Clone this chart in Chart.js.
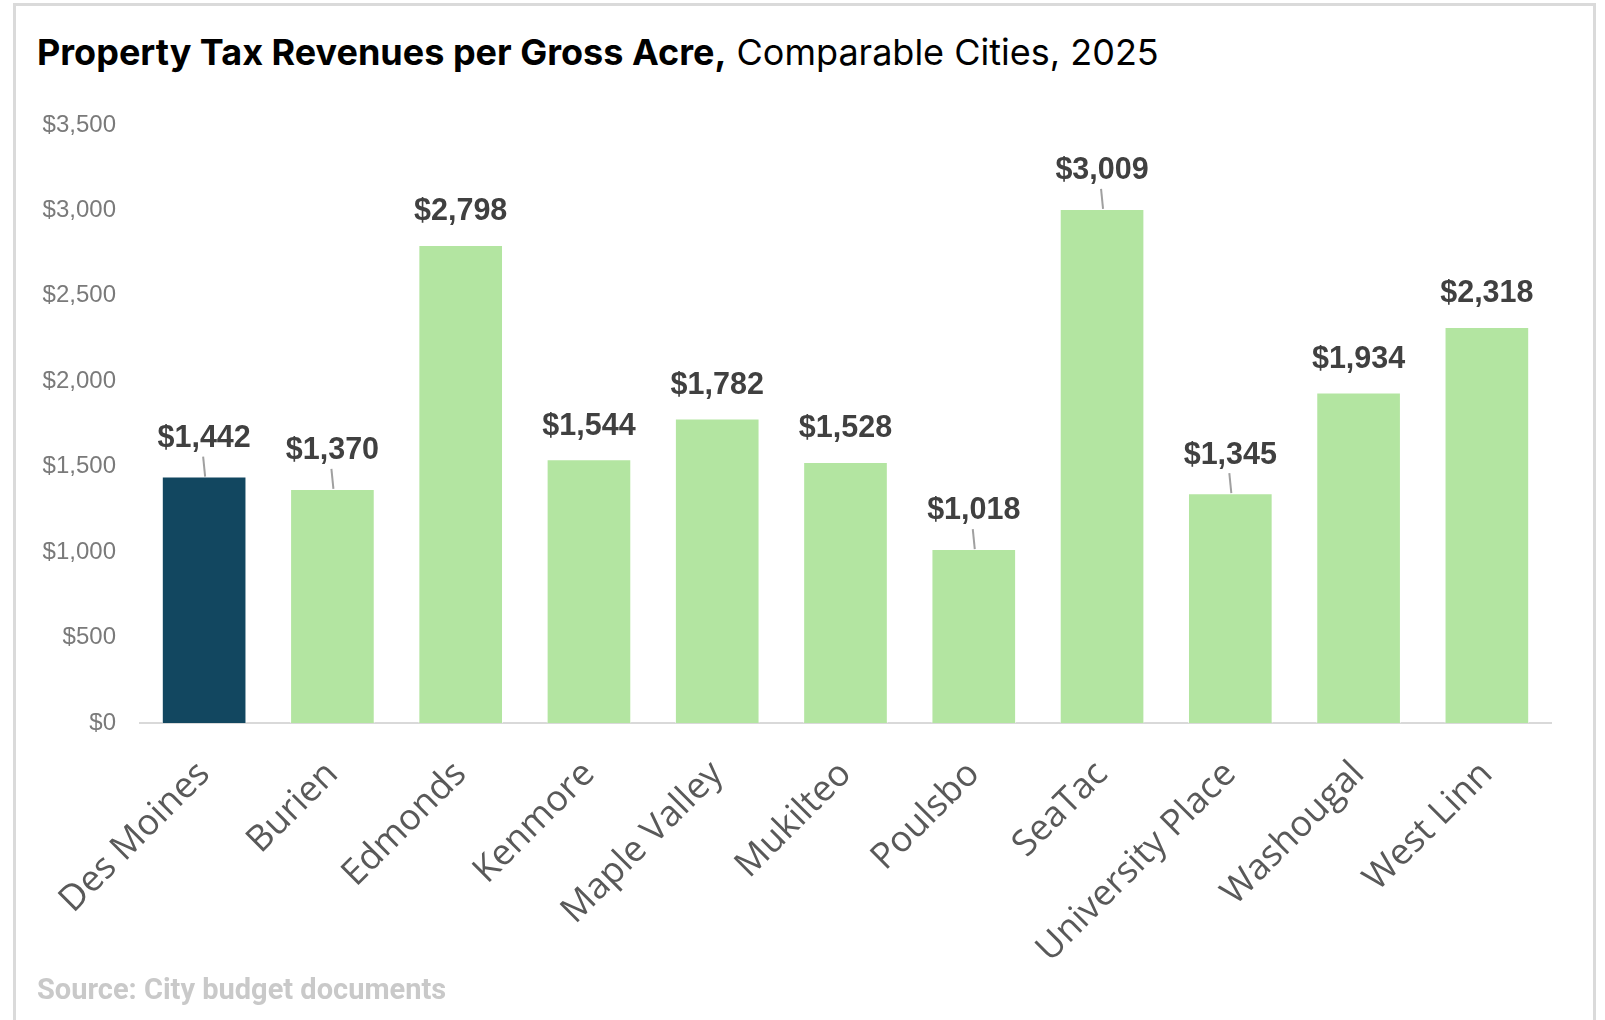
<!DOCTYPE html>
<html>
<head>
<meta charset="utf-8">
<script src="https://cdn.jsdelivr.net/npm/chart.js@4"></script>
<style>
  html, body { margin: 0; padding: 0; background: #ffffff; }
  #wrap { position: relative; width: 1605px; height: 1020px; overflow: hidden; }
  #frame { position: absolute; left: 13px; top: 3px; width: 1583px; height: 1040px; border: 3px solid #dadada; box-sizing: border-box; }
  #title { position: absolute; left: 37px; top: 30px; font-family: Inter, Roboto, sans-serif; font-size: 36px; color: #000; white-space: nowrap; letter-spacing: 0px; }
  #title b { font-weight: 700; }
  #title span { font-weight: 400; }
  #source { position: absolute; left: 37px; top: 972px; font-family: "Liberation Sans Narrow", Roboto, sans-serif; font-weight: 700; font-size: 29px; color: #c9c9c9; white-space: nowrap; }
  canvas { position: absolute; left: 0; top: 0; }
</style>
</head>
<body>
<div id="wrap">
  <div id="frame"></div>
  <div id="title"><b>Property Tax Revenues per Gross Acre,</b> <span>Comparable Cities, 2025</span></div>
  <canvas id="c" width="1605" height="1020"></canvas>
  <div id="source">Source: City budget documents</div>
</div>
<script>
const cities = ["Des Moines", "Burien", "Edmonds", "Kenmore", "Maple Valley", "Mukilteo", "Poulsbo", "SeaTac", "University Place", "Washougal", "West Linn"];
const revenuePerAcre = [1442, 1370, 2798, 1544, 1782, 1528, 1018, 3009, 1345, 1934, 2318];
const highlightCity = "Des Moines";
const leaderLineCities = ["Des Moines", "Burien", "Poulsbo", "SeaTac", "University Place"];
const yTickValues = [0, 500, 1000, 1500, 2000, 2500, 3000, 3500];

const fmt = v => "$" + v.toLocaleString("en-US");
const barColors = cities.map(c => c === highlightCity ? "#124760" : "#b3e5a1");

const labelPlugin = {
  id: "barLabels",
  afterDatasetsDraw(chart) {
    const ctx = chart.ctx;
    const meta = chart.getDatasetMeta(0);
    ctx.save();
    ctx.font = "bold 30.5px 'Liberation Sans', Arial, sans-serif";
    ctx.fillStyle = "#404040";
    ctx.textAlign = "center";
    ctx.textBaseline = "middle";
    meta.data.forEach((bar, i) => {
      const hasLeader = leaderLineCities.includes(cities[i]);
      const cy = bar.y - (hasLeader ? 38 : 33);
      ctx.fillText(fmt(revenuePerAcre[i]), bar.x, cy);
      if (hasLeader) {
        ctx.strokeStyle = "#a0a0a0";
        ctx.lineWidth = 2;
        ctx.beginPath();
        ctx.moveTo(bar.x - 1, cy + 18);
        ctx.lineTo(bar.x + 1, bar.y);
        ctx.stroke();
      }
    });
    ctx.restore();
  }
};

new Chart(document.getElementById("c"), {
  type: "bar",
  data: {
    labels: cities,
    datasets: [{
      data: revenuePerAcre,
      backgroundColor: barColors,
      borderColor: "rgba(255,255,255,0.6)",
      borderWidth: 1,
      categoryPercentage: 1.0,
      barPercentage: 0.66
    }]
  },
  options: {
    responsive: false,
    animation: false,
    events: [],
    layout: { padding: { left: 0, right: 54, top: 125, bottom: 0 } },
    plugins: { legend: { display: false }, title: { display: false }, tooltip: { enabled: false } },
    scales: {
      x: {
        grid: { display: false, drawTicks: false },
        border: { display: true, color: "#d9d9d9", width: 2 },
        ticks: {
          minRotation: 45, maxRotation: 45, autoSkip: false, padding: 30,
          color: "#595959",
          font: { family: "'Open Sans', sans-serif", size: 36 }
        },
        afterFit(scale) { scale.height = 297; }
      },
      y: {
        min: 0, max: 3500,
        grid: { display: false, drawTicks: false },
        border: { display: false },
        afterBuildTicks(scale) { scale.ticks = yTickValues.map(v => ({ value: v })); },
        ticks: {
          padding: 24,
          color: "#7a7a7a",
          font: { family: "'Liberation Sans', Arial, sans-serif", size: 24 },
          callback: v => fmt(v)
        },
        afterFit(scale) { scale.width = 140; }
      }
    }
  },
  plugins: [labelPlugin]
});
</script>
</body>
</html>
